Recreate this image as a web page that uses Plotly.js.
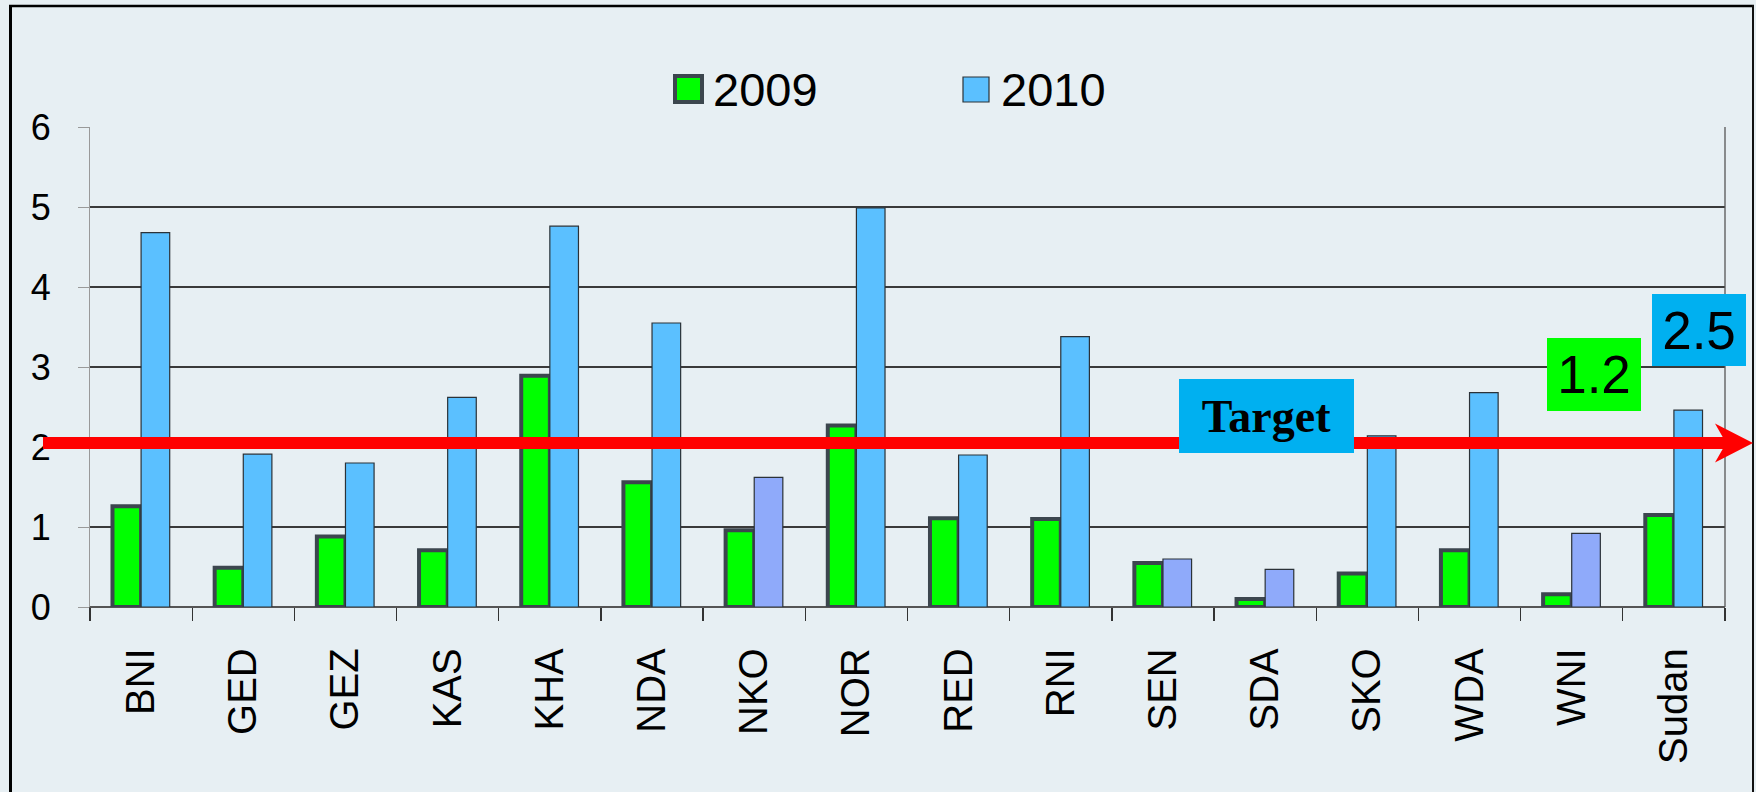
<!DOCTYPE html>
<html>
<head>
<meta charset="utf-8">
<script src="https://cdn.plot.ly/plotly-3.0.1.min.js"></script>
<style>
  html, body { margin: 0; padding: 0; background: rgb(231,239,243); }
  #chart { width: 1756px; height: 792px; }
</style>
</head>
<body>
<div id="chart"></div>
<script>
// ---- data ----
const categories = ['BNI','GED','GEZ','KAS','KHA','NDA','NKO','NOR','RED','RNI','SEN','SDA','SKO','WDA','WNI','Sudan'];
const values2009 = [1.26, 0.49, 0.88, 0.71, 2.89, 1.56, 0.96, 2.27, 1.11, 1.10, 0.55, 0.10, 0.42, 0.71, 0.16, 1.15];
const values2010 = [4.68, 1.91, 1.80, 2.62, 4.76, 3.55, 1.62, 4.99, 1.90, 3.38, 0.60, 0.47, 2.14, 2.68, 0.92, 2.46];
const lowCategories2010 = ['NKO','SEN','SDA','WNI'];
const seriesNames = ['2009', '2010'];
const targetValue = 2.05;
const targetLabel = 'Target';
const summary2009 = '1.2';
const summary2010 = '2.5';

// ---- styles ----
const BG = 'rgb(231,239,243)';
const GREEN = '#00FF00';
const GREEN_EDGE = '#3C464E';
const BLUE = '#5BC0FF';
const PERI = '#8FAAFA';
const BOXBLUE = '#00B0F0';
const SANS = 'Liberation Sans, Arial, sans-serif';
const SERIF = 'Liberation Serif, Times New Roman, serif';

// plot area in pixels
const L = 90, R = 1725, T = 127, B = 607;
const px2x = px => (px - L) / (R - L);
const py2y = py => (B - py) / (B - T);
const pxPerUnit = (B - T) / 6;
const dy = px => px / pxPerUnit;

const colors2010 = categories.map(c => lowCategories2010.includes(c) ? PERI : BLUE);

const traces = [
  {
    type: 'bar', name: seriesNames[0], x: categories, y: values2009,
    marker: { color: GREEN, line: { color: GREEN_EDGE, width: 4 } },
    hoverinfo: 'x+y+name'
  },
  {
    type: 'bar', name: seriesNames[1], x: categories, y: values2010,
    marker: { color: colors2010, line: { color: '#2b3238', width: 1.2 } },
    hoverinfo: 'x+y+name'
  }
];

// red target arrow (paper x, data y)
const xs = px2x(43), xj = px2x(1722.7), xb = px2x(1715), xt = px2x(1753);
const yTop = targetValue + dy(6), yBot = targetValue - dy(6);
const hTop = targetValue + dy(19.5), hBot = targetValue - dy(19.5);
const arrowPath = `M ${xs},${yTop} L ${xj},${yTop} L ${xb},${hTop} L ${xt},${targetValue} L ${xb},${hBot} L ${xj},${yBot} L ${xs},${yBot} Z`;

const shapes = [
  // frame
  { type: 'line', xref: 'paper', yref: 'paper', x0: px2x(10.5), x1: px2x(10.5), y0: py2y(5), y1: py2y(820), line: { color: '#000', width: 3 } },
  { type: 'line', xref: 'paper', yref: 'paper', x0: px2x(9), x1: px2x(1754), y0: py2y(6), y1: py2y(6), line: { color: '#000', width: 2.5 } },
  { type: 'line', xref: 'paper', yref: 'paper', x0: px2x(1753), x1: px2x(1753), y0: py2y(5), y1: py2y(820), line: { color: '#111', width: 2 } },
  // right border of plot area
  { type: 'line', xref: 'paper', yref: 'paper', x0: 1, x1: 1, y0: 0, y1: 1, line: { color: '#555', width: 1.3 } },
  // legend markers
  { type: 'rect', xref: 'paper', yref: 'paper', x0: px2x(675), x1: px2x(702), y0: py2y(76), y1: py2y(102), fillcolor: GREEN, line: { color: GREEN_EDGE, width: 4 } },
  { type: 'rect', xref: 'paper', yref: 'paper', x0: px2x(963), x1: px2x(989), y0: py2y(77), y1: py2y(102), fillcolor: BLUE, line: { color: '#2b3238', width: 1.2 } },
  // target arrow
  { type: 'path', xref: 'paper', yref: 'y', path: arrowPath, fillcolor: '#FF0000', line: { width: 0 } }
];

const annotations = [
  { xref: 'paper', yref: 'paper', x: px2x(711), y: py2y(89), xanchor: 'left', yanchor: 'middle', showarrow: false,
    text: seriesNames[0], font: { family: SANS, size: 47, color: '#000' } },
  { xref: 'paper', yref: 'paper', x: px2x(999), y: py2y(89), xanchor: 'left', yanchor: 'middle', showarrow: false,
    text: seriesNames[1], font: { family: SANS, size: 47, color: '#000' } },
  { xref: 'paper', yref: 'paper', x: px2x(1266.7), y: py2y(416.2), xanchor: 'center', yanchor: 'middle', showarrow: false,
    text: '<b>' + targetLabel + '</b>', font: { family: SERIF, size: 46, color: '#000' },
    bgcolor: BOXBLUE, width: 175, height: 74, borderpad: 0, borderwidth: 0 },
  { xref: 'paper', yref: 'paper', x: px2x(1594.2), y: py2y(374.2), xanchor: 'center', yanchor: 'middle', showarrow: false,
    text: summary2009, font: { family: SANS, size: 53, color: '#000' },
    bgcolor: GREEN, width: 94, height: 73, borderpad: 0, borderwidth: 0 },
  { xref: 'paper', yref: 'paper', x: px2x(1698.8), y: py2y(329.5), xanchor: 'center', yanchor: 'middle', showarrow: false,
    text: summary2010, font: { family: SANS, size: 53, color: '#000' },
    bgcolor: BOXBLUE, width: 94, height: 72, borderpad: 0, borderwidth: 0 }
];

const layout = {
  width: 1756, height: 792,
  paper_bgcolor: BG, plot_bgcolor: BG,
  margin: { l: L, r: 1756 - R, t: T, b: 792 - B, pad: 0 },
  showlegend: false,
  barmode: 'group', bargap: 0.44, bargroupgap: 0,
  font: { family: SANS, color: '#000' },
  xaxis: {
    type: 'category', tickson: 'boundaries', ticks: 'outside', ticklen: 13, tickwidth: 1.3, tickcolor: '#333',
    tickangle: -90, tickfont: { family: SANS, size: 40, color: '#000' },
    showline: true, linecolor: '#555', linewidth: 1.3, showgrid: false, ticklabelstandoff: 24
  },
  yaxis: {
    range: [0, 6], dtick: 1, tick0: 0, ticks: 'outside', ticklen: 11, tickwidth: 1, tickcolor: '#999',
    showline: true, linecolor: '#999', linewidth: 1,
    showgrid: true, gridcolor: '#3a3a3a', gridwidth: 1.3,
    zeroline: true, zerolinecolor: '#555', zerolinewidth: 1.3,
    tickfont: { family: SANS, size: 36, color: '#000' }, ticklabelstandoff: 20
  },
  shapes: shapes,
  annotations: annotations
};

Plotly.newPlot('chart', traces, layout, { displayModeBar: false, staticPlot: true });
</script>
</body>
</html>
